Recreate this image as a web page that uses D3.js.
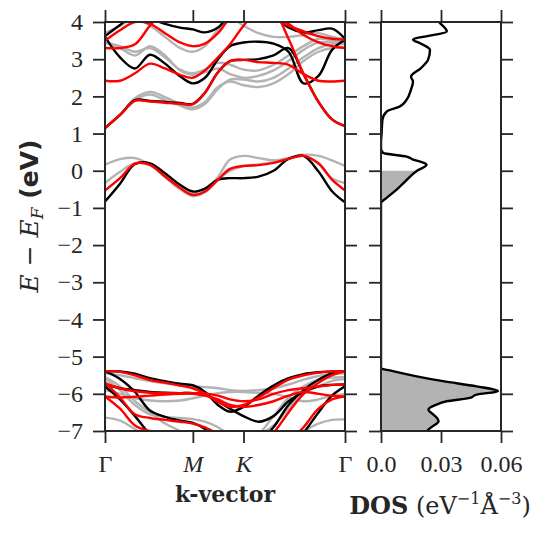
<!DOCTYPE html>
<html lang="en">
<head>
<meta charset="UTF-8"/>
<title>Band structure and DOS</title>
<script src="https://d3js.org/d3.v7.min.js"></script>
<style>
  body { margin: 0; background: #fff; }
  .tick text { font-family: "Liberation Serif", serif; font-size: 24px; fill: #262626; }
  .tick line { stroke: #262626; stroke-width: 1.8; }
</style>
</head>
<body>
<script>
// k-path positions (Gamma - M - K - Gamma) and tick labels
var kGrid = [0, 0.171, 0.341, 0.512, 0.683, 0.854, 1.0, 1.138, 1.286, 1.423, 1.577, 1.747, 1.918, 2.089, 2.26, 2.43, 2.584, 2.732];
var kTicks = [0, 1.0, 1.577, 2.732];
var kLabels = ["Γ", "M", "K", "Γ"];
var eTicks = [-7, -6, -5, -4, -3, -2, -1, 0, 1, 2, 3, 4];
var dosTicks = [0, 0.03, 0.06];
var dosLabels = ["0.0", "0.03", "0.06"];

// bands, energies (eV) at each kGrid point
var grayBands = [
  [0.16, 0.31, 0.34, 0.16, -0.17, -0.48, -0.63, -0.55, -0.17, 0.3, 0.40, 0.34, 0.28, 0.34, 0.43, 0.40, 0.28, 0.13],
  [-0.33, -0.03, 0.2, 0.15, -0.17, -0.5, -0.68, -0.58, -0.25, 0.0, 0.12, 0.17, 0.23, 0.33, 0.4, 0.18, -0.2, -0.33],
  [1.15, 1.5, 1.95, 2.12, 1.98, 1.8, 1.7, 1.85, 2.25, 2.4, 2.3, 2.25, 2.35, 2.6, 2.95, 3.2, 3.3, 3.3],
  [1.15, 1.5, 1.9, 2.05, 1.9, 1.75, 1.65, 1.8, 2.2, 2.45, 2.45, 2.4, 2.5, 2.75, 3.05, 3.3, 3.4, 3.4],
  [3.45, 3.3, 3.1, 3.35, 3.1, 2.7, 2.58, 2.65, 2.75, 2.6, 2.5, 2.55, 2.7, 2.95, 3.25, 3.45, 3.45, 3.45],
  [3.45, 3.35, 3.2, 3.3, 3.05, 2.72, 2.62, 2.72, 2.9, 2.85, 2.72, 2.7, 2.85, 3.1, 3.35, 3.55, 3.5, 3.45],
  [3.7, 3.9, 4.1, 3.9, 3.6, 3.3, 3.2, 3.35, 3.8, 4.1, 3.9, 3.7, 3.6, 3.6, 3.65, 3.7, 3.6, 3.55],
  [-5.45, -5.5, -5.58, -5.66, -5.72, -5.77, -5.8, -5.82, -5.85, -5.9, -5.92, -5.9, -5.85, -5.75, -5.62, -5.52, -5.47, -5.45],
  [-5.9, -6.0, -6.12, -6.18, -6.2, -6.18, -6.12, -6.05, -5.98, -5.95, -5.95, -5.97, -6.0, -6.1, -6.2, -6.15, -6.05, -6.0],
  [-5.6, -5.9, -6.3, -6.55, -6.62, -6.65, -6.68, -6.75, -6.9, -7.1, -7.2, -7.1, -6.85, -6.4, -6.0, -5.8, -5.65, -5.6],
  [-6.64, -6.72, -6.95, -7.2, -7.3, -7.3, -7.3, -7.3, -7.3, -7.3, -7.3, -7.3, -7.3, -7.2, -7.0, -6.8, -6.7, -6.69],
  [-5.55, -5.8, -6.2, -6.5, -6.8, -7.0, -7.2, -7.4, -7.5, -7.5, -7.4, -7.1, -6.6, -6.1, -5.8, -5.62, -5.56, -5.55]
];
var blackBands = [
  [-0.83, -0.35, 0.18, 0.2, -0.07, -0.38, -0.56, -0.48, -0.24, -0.2, -0.2, -0.16, 0.0, 0.32, 0.4, -0.02, -0.55, -0.85],
  [1.15, 1.5, 1.9, 1.88, 1.85, 1.82, 1.8, 2.1, 2.65, 2.95, 2.98, 3.0, 3.1, 3.3, 2.6, 1.85, 1.38, 1.2],
  [3.6, 3.05, 2.75, 3.12, 2.88, 2.54, 2.35, 2.5, 3.0, 3.35, 3.45, 3.47, 3.42, 3.2, 2.35, 2.55, 3.25, 3.52],
  [3.62, 3.92, 4.2, 4.1, 3.95, 3.85, 3.8, 3.72, 3.85, 4.2, 4.4, 4.4, 4.2, 3.85, 3.72, 3.78, 3.82, 3.55],
  [-5.39, -5.4, -5.46, -5.58, -5.66, -5.73, -5.77, -5.95, -6.3, -6.48, -6.35, -6.05, -5.78, -5.58, -5.47, -5.42, -5.4, -5.39],
  [-5.39, -5.6, -5.95, -6.45, -6.62, -6.72, -6.78, -6.95, -7.3, -7.5, -7.5, -7.3, -6.9, -6.3, -5.9, -5.62, -5.45, -5.39],
  [-5.8, -6.15, -6.6, -7.1, -7.5, -7.6, -7.6, -7.6, -7.6, -7.6, -7.6, -7.6, -7.6, -7.5, -7.05, -6.5, -6.05, -5.8],
  [-5.75, -5.85, -5.9, -5.95, -5.97, -5.98, -5.98, -6.02, -6.2, -6.4, -6.6, -6.75, -6.6, -6.2, -5.95, -5.8, -5.76, -5.75]
];
var redBands = [
  [-0.53, -0.2, 0.19, 0.16, -0.15, -0.46, -0.65, -0.56, -0.24, 0.05, 0.13, 0.15, 0.21, 0.32, 0.40, 0.2, -0.24, -0.53],
  [1.15, 1.5, 1.88, 1.86, 1.83, 1.8, 1.79, 2.1, 2.65, 2.95, 2.98, 2.92, 2.9, 2.85, 2.6, 2.42, 2.4, 2.42],
  [2.42, 2.42, 2.62, 2.88, 2.75, 2.58, 2.5, 2.7, 3.05, 3.4, 3.9, 4.3, 4.2, 3.95, 3.65, 3.45, 3.35, 3.3],
  [3.3, 3.3, 3.4, 3.9, 4.3, 4.3, 4.2, 4.1, 4.3, 4.5, 4.5, 4.4, 4.3, 3.55, 2.6, 1.85, 1.38, 1.2],
  [3.5, 3.78, 4.0, 3.95, 3.7, 3.45, 3.35, 3.42, 3.7, 4.1, 4.3, 4.3, 4.1, 3.9, 3.75, 3.62, 3.55, 3.52],
  [-5.39, -5.41, -5.5, -5.63, -5.7, -5.78, -5.85, -6.0, -6.22, -6.35, -6.3, -6.1, -5.85, -5.62, -5.5, -5.43, -5.4, -5.39],
  [-5.72, -5.85, -5.93, -5.97, -5.98, -5.98, -5.98, -5.99, -6.05, -6.15, -6.2, -6.15, -6.0, -5.9, -5.85, -5.8, -5.76, -5.75],
  [-5.7, -6.1, -6.55, -6.65, -6.7, -6.75, -6.8, -6.9, -7.1, -7.4, -7.5, -7.4, -7.05, -6.5, -6.0, -5.7, -5.5, -5.39],
  [-6.07, -6.4, -6.85, -7.0, -7.05, -7.1, -7.2, -7.3, -7.4, -7.5, -7.5, -7.5, -7.5, -7.3, -6.9, -6.4, -6.15, -6.07],
  [-6.07, -6.1, -6.08, -6.05, -6.02, -6.0, -6.0, -6.05, -6.15, -6.3, -6.35, -6.3, -6.2, -6.05, -5.95, -6.0, -6.05, -6.07]
];

// density of states: energy (eV) and value (eV^-1 A^-3)
var dosE = [-7.0, -6.96, -6.87, -6.74, -6.65, -6.56, -6.42, -6.29, -6.2, -6.11, -6.02, -5.93, -5.8, -5.66, -5.53, -5.39, -5.31, -5.0,
            -0.9, -0.87, -0.73, -0.51, -0.29, 0.0, 0.16, 0.22, 0.3, 0.38, 0.48, 0.6, 0.75, 1.0, 1.37, 1.59, 1.73, 1.91,
            2.18, 2.4, 2.53, 2.76, 2.98, 3.25, 3.43, 3.52, 3.75, 3.97, 4.0];
var dosV = [0.023, 0.0237, 0.026, 0.0288, 0.028, 0.0262, 0.0237, 0.0278, 0.0328, 0.0445, 0.0478, 0.0585, 0.0478, 0.031, 0.0178, 0.006, 0.0, 0.0,
            0.0, 0.0, 0.0028, 0.0078, 0.012, 0.0180, 0.0228, 0.021, 0.016, 0.0128, 0.001, 0.0, 0.0, 0.0003, 0.0007, 0.0028, 0.0095, 0.0128,
            0.015, 0.016, 0.015, 0.02, 0.0235, 0.0245, 0.0195, 0.016, 0.0329, 0.0295, 0.029];

var w = 552, h = 533;
var plotTop = 22, plotBottom = 431;

var svg = d3.select("body").append("svg")
  .attr("width", w)
  .attr("height", h);

var kScale = d3.scaleLinear().domain([0, 2.732]).range([105, 345]);
var eScale = d3.scaleLinear().domain([-7, 4]).range([plotBottom, plotTop]);
var dosScale = d3.scaleLinear().domain([0, 0.06]).range([381, 501]);

// clip paths for the two panels
var defs = svg.append("defs");
defs.append("clipPath").attr("id", "clipBands")
  .append("rect").attr("x", 105).attr("y", plotTop).attr("width", 240).attr("height", plotBottom - plotTop);
defs.append("clipPath").attr("id", "clipDos")
  .append("rect").attr("x", 381).attr("y", plotTop).attr("width", 120).attr("height", plotBottom - plotTop);

var bandLine = d3.line()
  .x(function(d, i) { return kScale(kGrid[i]); })
  .y(function(d) { return eScale(d); })
  .curve(d3.curveCatmullRom.alpha(0.5));

var bands = svg.append("g").attr("clip-path", "url(#clipBands)");
[[grayBands, "#b3b3b3"], [blackBands, "#000000"], [redBands, "#ff0000"]].forEach(function(set) {
  bands.selectAll(null)
    .data(set[0])
    .enter()
    .append("path")
    .attr("d", bandLine)
    .attr("fill", "none")
    .attr("stroke", set[1])
    .attr("stroke-width", 2.4);
});

// DOS panel
var dosData = dosE.map(function(e, i) { return {e: e, v: dosV[i]}; });
var dosArea = d3.area()
  .y(function(d) { return eScale(d.e); })
  .x0(dosScale(0))
  .x1(function(d) { return dosScale(d.v); })
  .curve(d3.curveMonotoneY);
var dosLine = d3.line()
  .y(function(d) { return eScale(d.e); })
  .x(function(d) { return dosScale(d.v); })
  .curve(d3.curveMonotoneY);

var dosG = svg.append("g").attr("clip-path", "url(#clipDos)");
dosG.append("path")
  .datum(dosData.filter(function(d) { return d.e <= 0; }))
  .attr("d", dosArea)
  .attr("fill", "#b3b3b3");
dosG.append("path")
  .datum(dosData)
  .attr("d", dosLine)
  .attr("fill", "none")
  .attr("stroke", "#000")
  .attr("stroke-width", 2.4);

// frames
svg.append("rect").attr("x", 105).attr("y", plotTop).attr("width", 240).attr("height", plotBottom - plotTop)
  .attr("fill", "none").attr("stroke", "#262626").attr("stroke-width", 2);
svg.append("rect").attr("x", 381).attr("y", plotTop).attr("width", 120).attr("height", plotBottom - plotTop)
  .attr("fill", "none").attr("stroke", "#262626").attr("stroke-width", 2);

function noDomain(g) { g.select(".domain").remove(); }

// band axes
svg.append("g").attr("transform", "translate(105,0)")
  .call(d3.axisLeft(eScale).tickValues(eTicks).tickSize(12).tickPadding(10))
  .call(noDomain);
svg.append("g").attr("transform", "translate(345,0)")
  .call(d3.axisRight(eScale).tickValues(eTicks).tickSize(12).tickFormat(""))
  .call(noDomain);
var kAxis = svg.append("g").attr("transform", "translate(0," + plotBottom + ")")
  .call(d3.axisBottom(kScale).tickValues(kTicks).tickSize(12).tickPadding(12)
    .tickFormat(function(d, i) { return kLabels[i]; }))
  .call(noDomain);
kAxis.selectAll("text").style("font-style", function(d, i) { return (kLabels[i] == "Γ") ? "normal" : "italic"; });
svg.append("g").attr("transform", "translate(0," + plotTop + ")")
  .call(d3.axisTop(kScale).tickValues(kTicks).tickSize(12).tickFormat(""))
  .call(noDomain);

// DOS axes
svg.append("g").attr("transform", "translate(381,0)")
  .call(d3.axisLeft(eScale).tickValues(eTicks).tickSize(12).tickFormat(""))
  .call(noDomain);
svg.append("g").attr("transform", "translate(501,0)")
  .call(d3.axisRight(eScale).tickValues(eTicks).tickSize(12).tickFormat(""))
  .call(noDomain);
svg.append("g").attr("transform", "translate(0," + plotBottom + ")")
  .call(d3.axisBottom(dosScale).tickValues(dosTicks).tickSize(12).tickPadding(12)
    .tickFormat(function(d, i) { return dosLabels[i]; }))
  .call(noDomain);
svg.append("g").attr("transform", "translate(0," + plotTop + ")")
  .call(d3.axisTop(dosScale).tickValues(dosTicks).tickSize(12).tickFormat(""))
  .call(noDomain);

// axis titles
svg.append("text")
  .attr("x", 225).attr("y", 502)
  .attr("text-anchor", "middle")
  .attr("font-family", "DejaVu Serif")
  .attr("font-weight", "bold")
  .attr("font-size", 22)
  .attr("fill", "#262626")
  .text("k-vector");

var dosTitle = svg.append("text")
  .attr("x", 440).attr("y", 514)
  .attr("text-anchor", "middle")
  .attr("font-family", "DejaVu Serif")
  .attr("font-size", 24)
  .attr("fill", "#262626");
dosTitle.append("tspan").attr("font-weight", "bold").text("DOS");
dosTitle.append("tspan").text(" (eV");
dosTitle.append("tspan").attr("font-size", 16).attr("dy", -10).text("−1");
dosTitle.append("tspan").attr("dy", 10).text("Å");
dosTitle.append("tspan").attr("font-size", 16).attr("dy", -10).text("−3");
dosTitle.append("tspan").attr("dy", 10).text(")");

var yTitle = svg.append("text")
  .attr("transform", "translate(38,216) rotate(-90)")
  .attr("text-anchor", "middle")
  .attr("font-family", "DejaVu Serif")
  .attr("font-size", 25)
  .attr("fill", "#262626");
yTitle.append("tspan").attr("font-style", "italic").text("E");
yTitle.append("tspan").text(" − ");
yTitle.append("tspan").attr("font-style", "italic").text("E");
yTitle.append("tspan").attr("font-style", "italic").attr("font-size", 17).attr("dy", 5).text("F");
yTitle.append("tspan").attr("dy", -5).attr("font-family", "DejaVu Sans").attr("font-weight", "bold").text(" (eV)");
</script>
</body>
</html>
